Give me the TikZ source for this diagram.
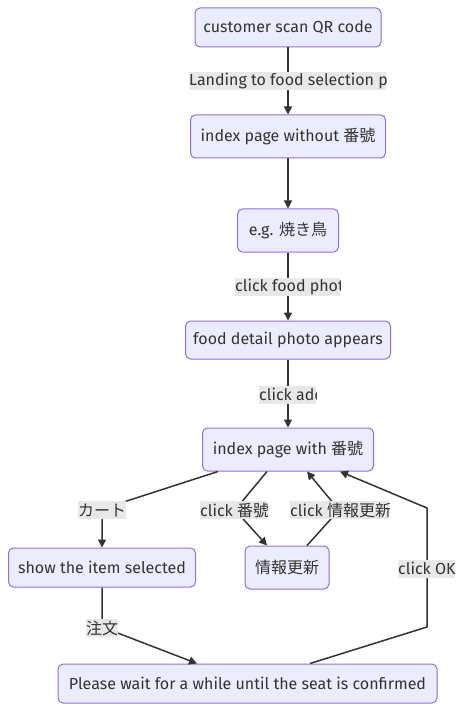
\documentclass[tikz,border=0pt]{standalone}
\usepackage{fontspec}
\setmainfont{Fira Sans}
\newfontfamily\cjk{Noto Sans CJK JP}
\usetikzlibrary{arrows.meta}
\definecolor{nodefill}{HTML}{ECECFF}
\definecolor{nodeline}{HTML}{9370DB}
\definecolor{edgecol}{HTML}{333333}
\definecolor{lblbg}{HTML}{E8E8E8}
\definecolor{txt}{HTML}{333333}
\newcommand\edgelab[5]{%
  \node[lblbox, minimum width=#4pt, anchor=west] (#1) at (#2,#3) {};
  \begin{scope}
    \clip (#1.south west) rectangle (#1.north east);
    \node[lbltext, anchor=west] (#1t) at (#1.west) {#5};
  \end{scope}}
\begin{document}
\begin{tikzpicture}[x=1pt,y=-1pt,
  box/.style={draw=nodeline, fill=nodefill, rounded corners=5pt, line width=1pt,
    text=txt, font=\fontsize{16}{19}\selectfont, inner sep=0pt},
  lblbox/.style={fill=lblbg, inner sep=0pt, minimum height=18pt},
  lbltext/.style={inner sep=0pt, text=txt, font=\fontsize{16}{19}\selectfont},
  flow/.style={draw=edgecol, line width=1.5pt, line join=round,
    -{Triangle[length=8pt,width=8pt]}}
]
\useasboundingbox (0,0) rectangle (464,711);
\fill[white] (0,0) rectangle (464,711);

% nodes
\node[box, minimum width=186pt, minimum height=39pt] (A) at (288,27.5) {customer scan QR code};
\node[box, minimum width=195pt, minimum height=43pt] (B) at (288,136.5) {index page without {\cjk 番號}};
\node[box, minimum width=101pt, minimum height=43pt] (C) at (288,230.5) {e.g. {\cjk 焼き鳥}};
\node[box, minimum width=205pt, minimum height=38pt] (D) at (288,340) {food detail photo appears};
\node[box, minimum width=171pt, minimum height=43pt] (E) at (288,449.5) {index page with {\cjk 番號}};
\node[box, minimum width=187pt, minimum height=39pt] (F) at (102,567.5) {show the item selected};
\node[box, minimum width=84pt, minimum height=43pt] (G) at (287,567.5) {\cjk 情報更新};
\node[box, minimum width=379pt, minimum height=39pt] (H) at (247.5,683.5) {Please wait for a while until the seat is confirmed};

% corner points of the edges
\coordinate (k1) at (102,509);
\coordinate (k2) at (235,510);
\coordinate (k3) at (339,510);
\coordinate (k4) at (427,627);
\coordinate (k5) at (427,508);
\coordinate (k6) at (102,627);

% edges
\draw[flow] (A.south) -- (B.north);
\draw[flow] (B.south) -- (C.north);
\draw[flow] (C.south) -- (D.north);
\draw[flow] (D.south) -- (E.north);
\draw[flow] ([xshift=16pt]E.south west) -- (k1) -- (F.north);
\draw[flow] ([xshift=-21pt]E.south) -- (k2) -- ([xshift=-20pt]G.north);
\draw[flow] ([xshift=20pt]G.north) -- (k3) -- ([xshift=19pt]E.south);
\draw[flow] ([xshift=62.5pt]H.north) -- (k4) -- (k5) -- ([xshift=52pt]E.south);
\draw[flow] (F.south) -- (k6) -- ([xshift=-50.5pt]H.north);

% edge labels
\edgelab{L1}{189}{81}{197}{Landing to food selection page}
\edgelab{L2}{235}{287}{105}{click food photo}
\edgelab{L3}{259}{394.5}{57}{click add}
\edgelab{L4}{78}{510}{48}{\cjk カート}
\edgelab{L5}{200}{510}{67}{click {\cjk 番號}}
\edgelab{L6}{290}{510}{99}{click {\cjk 情報更新}}
\edgelab{L7}{398}{568.5}{57}{click OK}
\edgelab{L8}{86}{628}{32}{\cjk 注文}
\end{tikzpicture}
\end{document}
